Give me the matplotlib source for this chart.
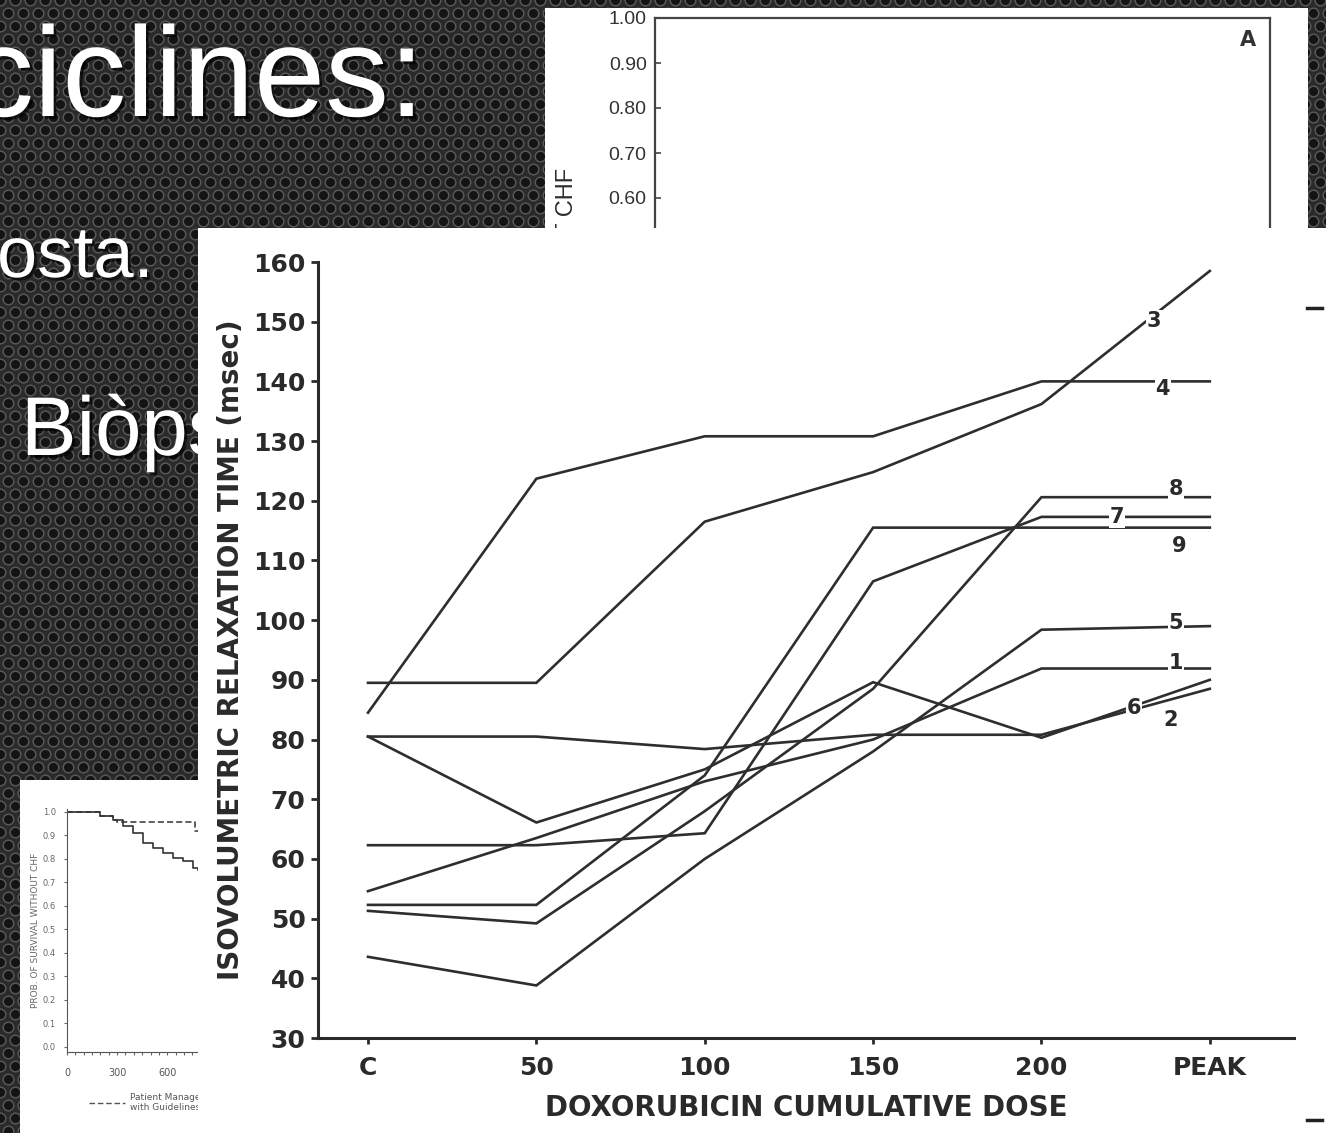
import numpy as np
import matplotlib
matplotlib.use("Agg")
import matplotlib.pyplot as plt
from matplotlib.patches import Rectangle
from matplotlib.lines import Line2D
import matplotlib.patheffects as pe

W, H = 1326, 1133

# --- main chart: isovolumetric relaxation time per patient ---
dose_labels = ["C", "50", "100", "150", "200", "PEAK"]
patient_ids = ["1", "2", "3", "4", "5", "6", "7", "8", "9"]
irt_1 = [54.6, 63.5, 73.0, 80.0, 91.9, 91.9]
irt_2 = [80.5, 80.5, 78.4, 80.8, 80.8, 88.5]
irt_3 = [89.5, 89.5, 116.5, 124.8, 136.2, 158.5]
irt_4 = [84.5, 123.7, 130.8, 130.8, 140.0, 140.0]
irt_5 = [43.6, 38.8, 60.0, 78.0, 98.4, 99.0]
irt_6 = [80.5, 66.1, 75.0, 89.6, 80.3, 90.0]
irt_7 = [62.3, 62.3, 64.3, 106.5, 117.3, 117.3]
irt_8 = [51.3, 49.2, 68.0, 88.5, 120.6, 120.6]
irt_9 = [52.3, 52.3, 74.0, 115.5, 115.5, 115.5]
all_irt = [irt_1, irt_2, irt_3, irt_4, irt_5, irt_6, irt_7, irt_8, irt_9]

# --- top-right inset (partially hidden) ---
tr_ticks = [0.0, 0.1, 0.2, 0.3, 0.4, 0.5, 0.6, 0.7, 0.8, 0.9, 1.0]
tr_ticklabels = ["0.00", "0.10", "0.20", "0.30", "0.40", "0.50",
                 "0.60", "0.70", "0.80", "0.90", "1.00"]

# --- bottom-left inset: survival without CHF ---
surv_days = [0, 118, 198, 277, 337, 397, 457, 517, 577, 637, 697, 757, 787]
surv_all = [1.0, 0.997, 0.98, 0.966, 0.937, 0.909, 0.867, 0.846, 0.824,
            0.803, 0.789, 0.760, 0.753]
guide_days = [0, 118, 198, 277, 297, 747, 767, 787]
guide_surv = [1.0, 0.997, 0.98, 0.966, 0.956, 0.956, 0.916, 0.916]
bl_yticks = [0.0, 0.1, 0.2, 0.3, 0.4, 0.5, 0.6, 0.7, 0.8, 0.9, 1.0]
bl_xticks = [0, 300, 600, 900]


def px_box(left, top, right, bottom):
    return [left / W, 1 - bottom / H, (right - left) / W, (bottom - top) / H]


fig = plt.figure(figsize=(W / 100, H / 100), dpi=100)
fig.patch.set_facecolor("#2a2a2a")

# background slide: perforated metal texture and bullet text
ax_bg = fig.add_axes([0, 0, 1, 1], zorder=0)
ax_bg.set_xlim(0, W)
ax_bg.set_ylim(H, 0)
ax_bg.axis("off")
gx, gy = np.meshgrid(np.arange(0, W + 15, 15.0), np.arange(0, H + 13, 13.0))
gx[1::2] += 7.5
ax_bg.scatter(gx.ravel(), gy.ravel(), s=58, facecolor="#141414",
              edgecolor="#575757", linewidths=1.1, zorder=1)

shadow = [pe.withSimplePatchShadow(offset=(2, -2), shadow_rgbFace="black", alpha=0.7)]
ax_bg.text(-30, 116, "ciclines:", color="white", fontsize=92,
           family="Liberation Sans", va="baseline", zorder=3, path_effects=shadow)
ax_bg.text(-3, 277, "osta.", color="white", fontsize=52,
           family="Liberation Sans", va="baseline", zorder=3, path_effects=shadow)
ax_bg.text(21, 455, "Biòps", color="white", fontsize=60,
           family="Liberation Sans", va="baseline", zorder=3, path_effects=shadow)

# white paper backgrounds of the two pasted figures
ax_bg.add_patch(Rectangle((545, 8), 763, 220, facecolor="white", zorder=4))
ax_bg.add_patch(Rectangle((20, 780), 200, 360, facecolor="white", zorder=4))
ax_bg.text(567, 168, "PROB. OF SURVIVAL WITHOUT CHF", rotation=90, ha="center",
           va="top", fontsize=17, color="#2e2e2e", family="Liberation Sans", zorder=5)

# top-right inset
ax_tr = fig.add_axes(px_box(655, 18, 1270, 468), zorder=1)
ax_tr.set_xlim(0, 1)
ax_tr.set_ylim(0, 1)
ax_tr.set_xticks([])
ax_tr.set_yticks(tr_ticks)
ax_tr.set_yticklabels(tr_ticklabels, family="Liberation Sans", fontsize=14, color="#333333")
ax_tr.tick_params(axis="y", direction="in", length=4, width=1.2, pad=6, color="#444444")
for side in ["top", "left", "right"]:
    ax_tr.spines[side].set_linewidth(1.6)
    ax_tr.spines[side].set_color("#444444")
ax_tr.spines["bottom"].set_visible(False)
ax_tr.text(0.964, 0.951, "A", transform=ax_tr.transAxes, ha="center", va="center",
           fontsize=15, fontweight="bold", color="#333333")

# bottom-left inset
ax_bl = fig.add_axes(px_box(67, 809.3, 234, 1051.7), zorder=1)
ax_bl.set_xlim(0, 1000)
ax_bl.set_ylim(-0.02, 1.01)
ax_bl.plot(surv_days, surv_all, drawstyle="steps-post", color="#333333", lw=1.2)
ax_bl.plot(guide_days, guide_surv, drawstyle="steps-post", color="#333333", lw=1.1,
           ls=(0, (4, 2)))
ax_bl.set_yticks(bl_yticks)
ax_bl.set_yticklabels([f"{v:.1f}" for v in bl_yticks], fontsize=6, color="#666666")
ax_bl.set_xticks(bl_xticks)
ax_bl.set_xticklabels([str(v) for v in bl_xticks], fontsize=7, color="#555555")
ax_bl.set_xticks(np.arange(0, 1000, 50), minor=True)
ax_bl.tick_params(axis="both", length=2, width=0.8, color="#666666", pad=6)
ax_bl.tick_params(axis="x", pad=10)
ax_bl.tick_params(axis="x", which="minor", length=2, width=0.8, color="#666666")
ax_bl.set_ylabel("PROB. OF SURVIVAL WITHOUT CHF", fontsize=6.5, color="#666666", labelpad=2)
for side in ["top", "right"]:
    ax_bl.spines[side].set_visible(False)
for side in ["left", "bottom"]:
    ax_bl.spines[side].set_color("#555555")
ax_bl.legend(handles=[Line2D([], [], color="#555555", lw=1, ls=(0, (4, 2)))],
             labels=["Patient Managed\nwith Guidelines"], loc="upper left",
             bbox_to_anchor=(0.13, -0.17), frameon=False, fontsize=6.5,
             handlelength=4.0, handletextpad=0.6, borderpad=0, borderaxespad=0,
             labelcolor="#555555")

# white page of the main figure
fig.add_artist(Rectangle((198 / W, 0), (W - 198) / W, (H - 228) / H,
                         transform=fig.transFigure, facecolor="white", zorder=2))

# main chart
ax = fig.add_axes(px_box(318, 262, 1294, 1038), zorder=3)
ax.set_facecolor("none")
x = np.arange(len(dose_labels))
line_color = "#2e2e2e"
for values in all_irt:
    ax.plot(x, values, color=line_color, lw=1.9, solid_joinstyle="miter", zorder=2)

# patient number labels placed on the final segment of each line
label_style = {
    "1": (4.80, 0.9), "2": (4.77, -3.4), "3": (4.67, -1.0), "4": (4.72, -1.2),
    "5": (4.80, 0.6), "6": (4.55, -0.3), "7": (4.45, 0.0), "8": (4.80, 1.3),
    "9": (4.82, -3.0),
}
for pid, values in zip(patient_ids, all_irt):
    lx, dy = label_style[pid]
    # y on the 200 -> PEAK segment at lx
    ly = values[4] + (values[5] - values[4]) * (lx - 4) + dy
    ax.text(lx, ly, pid, ha="center", va="center", fontsize=15, fontweight="bold",
            color="#2a2a2a", zorder=3,
            bbox=dict(facecolor="white", edgecolor="none", pad=0.5))

ax.set_xlim(-0.297, 5.5)
ax.set_ylim(30, 160)
ax.set_xticks(x)
ax.set_xticklabels(dose_labels)
ax.set_yticks(np.arange(30, 161, 10))
for side in ["top", "right"]:
    ax.spines[side].set_visible(False)
for side in ["left", "bottom"]:
    ax.spines[side].set_linewidth(2.2)
    ax.spines[side].set_color("#2a2a2a")
ax.tick_params(axis="y", length=5, width=2, pad=4, labelsize=18, colors="#2a2a2a")
ax.tick_params(axis="x", length=4, width=2, pad=9, labelsize=18, colors="#2a2a2a")
for lab in ax.get_xticklabels() + ax.get_yticklabels():
    lab.set_fontweight("bold")
ax.set_xlabel("DOXORUBICIN CUMULATIVE DOSE", fontsize=20, fontweight="bold",
              color="#2a2a2a", labelpad=10)
ax.set_ylabel("ISOVOLUMETRIC RELAXATION TIME (msec)", fontsize=20, fontweight="bold",
              color="#2a2a2a", labelpad=6)

# stray marks at the right edge of the page
for yy in (308, 1120):
    fig.add_artist(Line2D([1307 / W, 1322 / W], [1 - yy / H, 1 - yy / H],
                          transform=fig.transFigure, color="#222222", lw=2.5, zorder=4))

fig.savefig("out.png", dpi=100)
